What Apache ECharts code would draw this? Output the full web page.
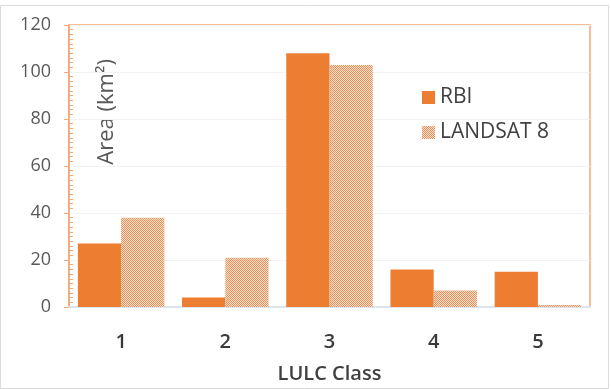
<!DOCTYPE html>
<html>
<head>
<meta charset="utf-8">
<script src="https://cdn.jsdelivr.net/npm/echarts@6/dist/echarts.min.js"></script>
<style>
  html, body { margin: 0; padding: 0; background: #fff; }
  #chart { width: 611px; height: 389px; }
</style>
</head>
<body>
<div id="chart"></div>
<script>
// LULC classes and area per source (km²)
const classes = ['1', '2', '3', '4', '5'];
const rbiArea = [27, 4, 108, 16, 15];
const landsatArea = [38, 21, 103, 7, 0.8];
const yTicks = { min: 0, max: 120, step: 20 };

const FONT = '"Open Sans", "Liberation Sans", sans-serif';
const ORANGE = '#ED7D31';
const AXIS_ORANGE = '#F3A878';

// fine cross-hatch fill for the LANDSAT 8 bars
function hatchPattern() {
  const c = document.createElement('canvas');
  c.width = 4; c.height = 4;
  const g = c.getContext('2d');
  g.fillStyle = '#FBE0CF';
  g.fillRect(0, 0, 4, 4);
  g.fillStyle = '#EE9058';
  for (let y = 0; y < 4; y++) {
    for (let x = 0; x < 4; x++) {
      if ((x + y) % 2 === 0) g.fillRect(x, y, 1, 1);
    }
  }
  return c;
}

const chart = echarts.init(document.getElementById('chart'), null, { renderer: 'canvas' });

chart.setOption({
  backgroundColor: '#fff',
  animation: false,
  grid: {
    left: 69, right: 21, top: 25, bottom: 82,
    show: true, borderColor: AXIS_ORANGE, borderWidth: 1.5
  },
  legend: {
    orient: 'vertical',
    left: 417, top: 82,
    itemWidth: 13, itemHeight: 13, itemGap: 14,
    icon: 'rect',
    textStyle: { fontFamily: FONT, fontSize: 21, color: '#404040' },
    data: ['RBI', 'LANDSAT 8']
  },
  xAxis: {
    type: 'category',
    data: classes,
    name: 'LULC Class',
    nameLocation: 'middle',
    nameGap: 57,
    nameTextStyle: { fontFamily: FONT, fontSize: 20, color: '#404040', fontWeight: 600 },
    axisLine: { lineStyle: { color: '#DCE4EE', width: 2 } },
    axisTick: { show: false },
    axisLabel: { margin: 25, fontFamily: FONT, fontSize: 20, color: '#3a3a3a', fontWeight: 600 }
  },
  yAxis: [
    {
      type: 'value',
      min: yTicks.min, max: yTicks.max, interval: yTicks.step,
      axisLine: { show: true, lineStyle: { color: AXIS_ORANGE, width: 1.5 } },
      axisTick: { show: true, length: 5, lineStyle: { color: AXIS_ORANGE } },
      axisLabel: { margin: 18, fontFamily: FONT, fontSize: 18, color: '#595959' },
      splitLine: { show: true, lineStyle: { color: '#F3F3F3', width: 1 } }
    },
    {
      type: 'value',
      position: 'left',
      min: yTicks.min, max: yTicks.max, interval: yTicks.step,
      axisLine: { show: false },
      axisTick: { show: false, inside: true },
      minorTick: { show: true, splitNumber: 10, length: 4, lineStyle: { color: AXIS_ORANGE } },
      axisLabel: { show: false },
      splitLine: { show: false }
    }
  ],
  graphic: [
    {
      type: 'rect',
      shape: { x: 0.5, y: 5.5, width: 608, height: 383 },
      style: { fill: 'none', stroke: '#DADADA', lineWidth: 1 },
      silent: true
    },
    {
      type: 'text',
      left: 96, top: 59,
      rotation: Math.PI / 2,
      style: { text: 'Area (km²)', fontFamily: FONT, fontSize: 22, fill: '#595959' }
    }
  ],
  series: [
    {
      name: 'RBI',
      type: 'bar',
      data: rbiArea,
      barGap: '0%',
      barCategoryGap: '17%',
      itemStyle: { color: ORANGE }
    },
    {
      name: 'LANDSAT 8',
      type: 'bar',
      data: landsatArea,
      itemStyle: { color: { image: hatchPattern(), repeat: 'repeat' } }
    }
  ]
});
</script>
</body>
</html>
